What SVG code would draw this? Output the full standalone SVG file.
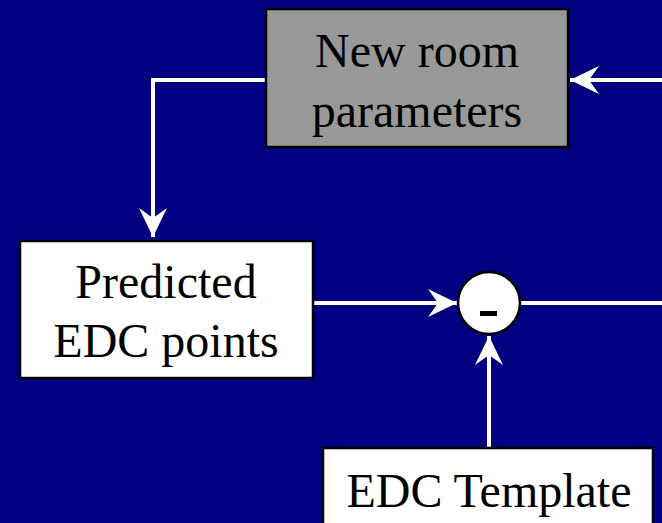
<svg xmlns="http://www.w3.org/2000/svg" width="662" height="523" viewBox="0 0 662 523">
  <style>
    .box { stroke: #000; stroke-width: 2.5; }
    .label { font-family: "Liberation Serif", "Times New Roman", serif; font-size: 48px; fill: #000; text-anchor: middle; }
    .wire { stroke: #fff; stroke-width: 4; fill: none; }
  </style>
  <defs>
    <marker id="head" markerUnits="userSpaceOnUse" markerWidth="32" markerHeight="32" viewBox="-30 -16 32 32" refX="0" refY="0" orient="auto">
      <polygon points="0,0 -29,-14 -19,0 -29,14" fill="#fff"/>
    </marker>
  </defs>

  <rect width="662" height="523" fill="#000080"/>

  <g id="connectors">
    <polyline class="wire" points="266,80 153,80 153,237" marker-end="url(#head)"/>
    <line class="wire" x1="662" y1="80" x2="570" y2="80" marker-end="url(#head)"/>
    <line class="wire" x1="313" y1="303" x2="457" y2="303" marker-end="url(#head)"/>
    <line class="wire" x1="520" y1="303" x2="662" y2="303"/>
    <line class="wire" x1="489" y1="448" x2="489" y2="336" marker-end="url(#head)"/>
  </g>

  <g id="new-room-parameters">
    <rect class="box" x="266" y="9" width="302" height="138" fill="#999999"/>
    <text class="label" x="417" y="67">New room</text>
    <text class="label" x="417" y="127">parameters</text>
  </g>

  <g id="predicted-edc-points">
    <rect class="box" x="20" y="241" width="293" height="137" fill="#fff"/>
    <text class="label" x="166" y="298">Predicted</text>
    <text class="label" x="166" y="357">EDC points</text>
  </g>

  <g id="subtract">
    <circle class="box" cx="489" cy="303" r="31" fill="#fff"/>
    <rect x="480" y="311" width="17" height="5" fill="#000"/>
  </g>

  <g id="edc-template">
    <rect class="box" x="323" y="448" width="330" height="90" fill="#fff"/>
    <text class="label" x="489" y="507">EDC Template</text>
  </g>
</svg>
